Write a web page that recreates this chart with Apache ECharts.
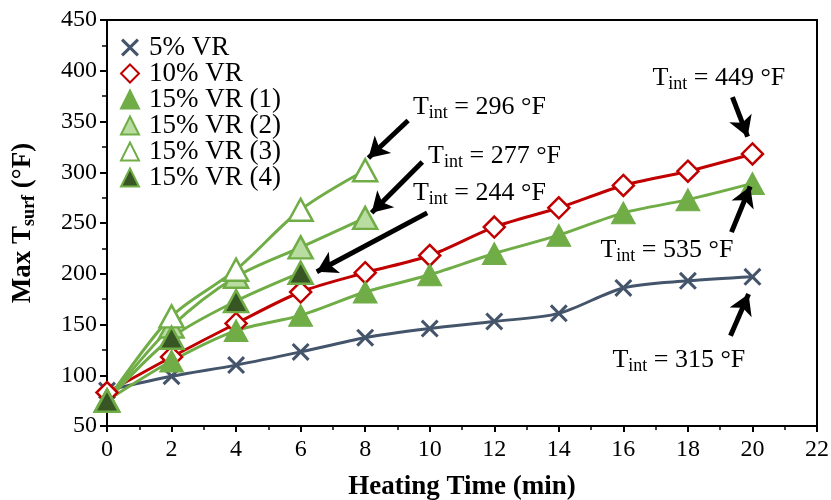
<!DOCTYPE html>
<html><head><meta charset="utf-8">
<script src="https://cdn.jsdelivr.net/npm/echarts@6/dist/echarts.min.js"></script>
<style>html,body{margin:0;padding:0;background:#fff}#c{width:831px;height:500px}</style>
</head><body><div id="c"></div>
<script>
const seriesNames = ['5% VR','10% VR','15% VR (1)','15% VR (2)','15% VR (3)','15% VR (4)'];
const timesLong = [0,2,4,6,8,10,12,14,16,18,20];
const vr5 = [85,99,110,123,137,146,153,161,186,193,197];
const vr10 = [83,118,151,182,201,218,246,265,287,301,318];
const vr15_1 = [75,114,144,159,182,199,220,238,260,273,289];
const times8 = [0,2,4,6,8];
const vr15_2 = [75,148,197,226,255];
const vr15_3 = [75,158,204,263,302];
const times6 = [0,2,4,6];
const vr15_4 = [75,137,173,201];
const yTicks = {min:50,max:450,step:50};
const xTicks = {min:0,max:22,step:2};

const FONT = '"Liberation Serif", "Times New Roman", serif';
const pair = (xs, ys) => xs.map((x,i)=>[x, ys[i]]);
const XPATH = 'path://M0,1.2 L1.2,0 L5,3.8 L8.8,0 L10,1.2 L6.2,5 L10,8.8 L8.8,10 L5,6.2 L1.2,10 L0,8.8 L3.8,5 Z';
const slate='#44546A', red='#C00000', green='#70AD47', dark='#375623';

const rich = {
  a:{fontFamily:FONT,fontSize:26,color:'#000',lineHeight:30},
  s:{fontFamily:FONT,fontSize:18,color:'#000',lineHeight:30,padding:[12,0,0,0]}
};
function ann(label, x, y){
  return {coord:[x,y], symbol:'circle', symbolSize:0,
    label:{show:true, position:'right', distance:0, formatter:'{a|T}{s|int}{a| = '+label+' °F}', rich:rich}};
}
function arrow(x1,y1,x2,y2){ return [{coord:[x1,y1]},{coord:[x2,y2]}]; }

const chart = echarts.init(document.getElementById('c'), null, {renderer:'canvas'});
const base = {type:'line', smooth:0.3, animation:false, z:3};
chart.setOption({
  animation:false,
  grid:{left:107, right:14, top:20, bottom:74, show:true, borderColor:'#000', borderWidth:2, containLabel:false, outerBoundsMode:'none'},
  legend:{
    orient:'vertical', left:115, top:29, itemGap:-1, itemWidth:18, itemHeight:18,
    textStyle:{fontFamily:FONT, fontSize:27, color:'#000', lineHeight:26, padding:[0,0,0,5]},
    data:[
      {name:seriesNames[0], icon:XPATH},
      {name:seriesNames[1], icon:'diamond'},
      {name:seriesNames[2], icon:'triangle'},
      {name:seriesNames[3], icon:'triangle'},
      {name:seriesNames[4], icon:'triangle'},
      {name:seriesNames[5], icon:'triangle'}
    ]
  },
  xAxis:{
    type:'value', min:xTicks.min, max:xTicks.max, interval:xTicks.step,
    name:'Heating Time (min)', nameLocation:'middle', nameGap:48,
    nameTextStyle:{fontFamily:FONT, fontSize:27, fontWeight:'bold', color:'#000'},
    axisLine:{show:true, lineStyle:{color:'#000', width:2}},
    axisTick:{show:true, length:6, lineStyle:{color:'#000', width:2}},
    minorTick:{show:true, splitNumber:2, length:4, lineStyle:{color:'#000', width:1.5}},
    splitLine:{show:false},
    axisLabel:{fontFamily:FONT, fontSize:24, color:'#000', margin:12}
  },
  yAxis:{
    type:'value', min:yTicks.min, max:yTicks.max, interval:yTicks.step,
    name:'{b|Max T}{bs|surf}{b| (°F)}', nameLocation:'middle', nameGap:68,
    nameTextStyle:{rich:{
      b:{fontFamily:FONT, fontSize:27, fontWeight:'bold', color:'#000', lineHeight:32},
      bs:{fontFamily:FONT, fontSize:18, fontWeight:'bold', color:'#000', lineHeight:32, padding:[12,0,0,0]}
    }},
    axisLine:{show:true, lineStyle:{color:'#000', width:2}},
    axisTick:{show:true, length:7, lineStyle:{color:'#000', width:2}},
    minorTick:{show:true, splitNumber:2, length:5, lineStyle:{color:'#000', width:1.5}},
    splitLine:{show:false},
    axisLabel:{fontFamily:FONT, fontSize:24, color:'#000', margin:10}
  },
  series:[
    Object.assign({}, base, {name:seriesNames[0], data:pair(timesLong, vr5), symbol:XPATH, symbolSize:18,
      lineStyle:{color:slate, width:3}, itemStyle:{color:slate},
      markLine:{silent:true, symbol:['none','arrow'], symbolSize:[18,20], animation:false,
        lineStyle:{color:'#000', width:5, type:'solid'}, label:{show:false}, emphasis:{disabled:true},
        data:[
          arrow(9.33,351,8.1,314),
          arrow(9.77,310,8.2,260),
          arrow(9.92,260,6.5,202),
          arrow(19.38,374,19.85,335),
          arrow(19.35,241,19.93,286),
          arrow(19.32,139,19.88,180)
        ]},
      markPoint:{silent:true, animation:false, data:[
        ann('296', 9.48, 364),
        ann('277', 9.95, 316),
        ann('244', 9.48, 279),
        ann('449', 16.9, 393),
        ann('535', 15.29, 223),
        ann('315', 15.66, 115)
      ]}
    }),
    Object.assign({}, base, {name:seriesNames[1], data:pair(timesLong, vr10), symbol:'diamond', symbolSize:21,
      lineStyle:{color:red, width:3}, itemStyle:{color:'#fff', borderColor:red, borderWidth:2.5}}),
    Object.assign({}, base, {name:seriesNames[2], data:pair(timesLong, vr15_1), symbol:'triangle', symbolSize:[24,22],
      lineStyle:{color:green, width:3}, itemStyle:{color:green, borderColor:green, borderWidth:1}}),
    Object.assign({}, base, {name:seriesNames[3], data:pair(times8, vr15_2), symbol:'triangle', symbolSize:[24,22],
      lineStyle:{color:green, width:3}, itemStyle:{color:'#B9DCA0', borderColor:green, borderWidth:2.5}}),
    Object.assign({}, base, {name:seriesNames[4], data:pair(times8, vr15_3), symbol:'triangle', symbolSize:[24,22],
      lineStyle:{color:green, width:3}, itemStyle:{color:'#fff', borderColor:green, borderWidth:2.5}}),
    Object.assign({}, base, {name:seriesNames[5], data:pair(times6, vr15_4), symbol:'triangle', symbolSize:[24,22],
      lineStyle:{color:green, width:3}, itemStyle:{color:dark, borderColor:green, borderWidth:2.5}})
  ]
});
</script></body></html>
